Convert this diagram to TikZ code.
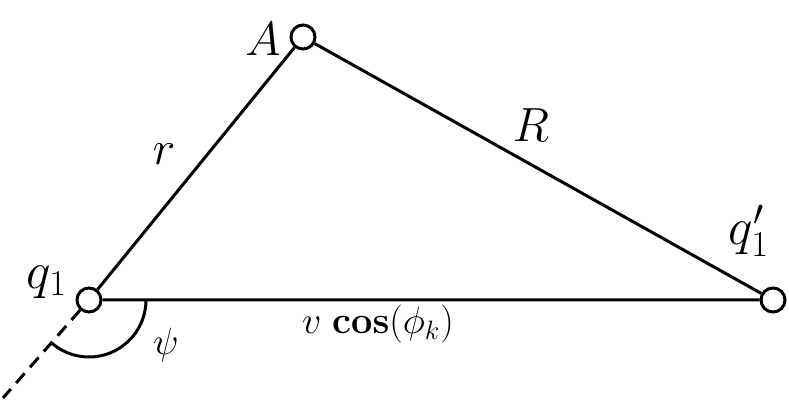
\RequirePackage{fix-cm}
\documentclass[tikz,border=0pt]{standalone}
\usepackage{amsmath}
\usepackage{tikz}

\begin{document}
\begin{tikzpicture}[x=0.5pt,y=-0.5pt]
\tikzstyle{every node}=[inner sep=0pt]
\tikzstyle{pt}=[circle,draw,line width=1.5pt,fill=white,minimum size=12pt]
\tikzstyle{side}=[line width=1.5pt]
\tikzstyle{big}=[font=\fontsize{24}{28}\selectfont]
\tikzstyle{qlbl}=[font=\fontsize{26}{30}\selectfont]
\tikzstyle{small}=[font=\fontsize{19}{23}\selectfont]
\useasboundingbox (0,0) rectangle (789,401);
\node [pt] (q1) at (89,300) {};
\node [pt] (A) at (303,37) {};
\node [pt] (q1p) at (773,300) {};
\coordinate (tail) at (3,398);
\draw [side, dash pattern=on 6.5pt off 4pt] (q1) -- (tail);
\draw [side] (q1) -- (A) -- (q1p) -- (q1);
\draw [side] (q1.center) ++(130:57) arc [start angle=130, end angle=0, radius=57];
\node [big] (labA) at (263,39) {$A$};
\node [big] (labR) at (531,125) {$R$};
\node [big] (labr) at (164,154) {$r$};
\node [qlbl] (labq1) at (47,282) {$q_1$};
\node [qlbl] (labq1p) at (749,231) {$q_1'$};
\node [small] (labpsi) at (166,345) {$\psi$};
\node [small] (labv) at (378,324) {$v\;\mathbf{cos}(\phi_k)$};
\end{tikzpicture}
\end{document}
